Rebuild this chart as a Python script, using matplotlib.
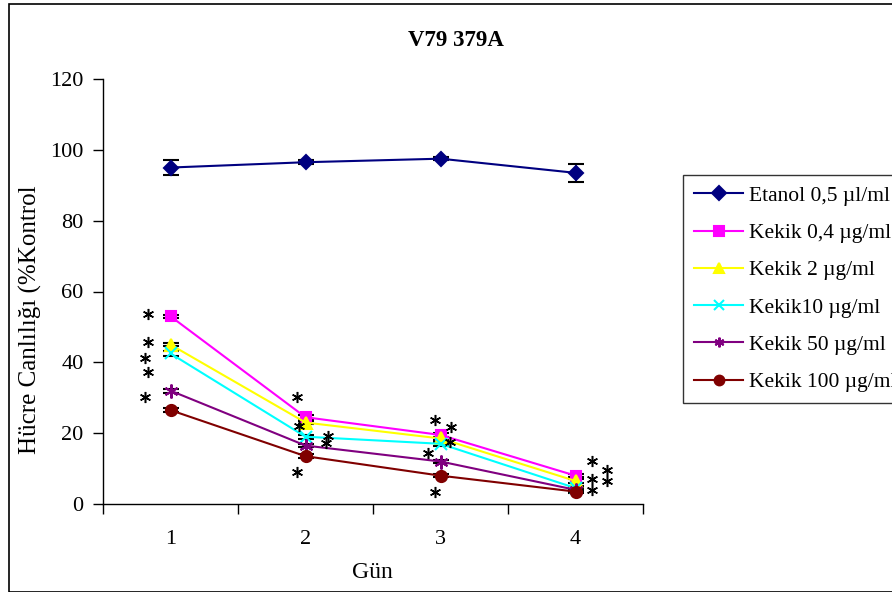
import matplotlib
matplotlib.use("Agg")
import matplotlib.pyplot as plt
from matplotlib.patches import Rectangle

plt.rcParams['font.family'] = ['Liberation Serif', 'DejaVu Serif']

days = [1, 2, 3, 4]
title = "V79 379A"
series_names = ["Etanol 0,5 µl/ml", "Kekik 0,4 µg/ml", "Kekik 2 µg/ml",
                "Kekik10 µg/ml", "Kekik 50 µg/ml", "Kekik 100 µg/ml"]
etanol = [95.0, 96.5, 97.5, 93.5]
kekik_04 = [53.0, 24.5, 19.5, 8.0]
kekik_2 = [45.0, 23.0, 18.5, 6.5]
kekik_10 = [42.5, 19.0, 17.0, 4.5]
kekik_50 = [32.0, 16.5, 12.0, 4.0]
kekik_100 = [26.5, 13.5, 8.0, 3.5]

err_etanol = [2.0, 0.6, 0.5, 2.5]
err_04 = [0.5, 0.5, 0.5, 0.5]
err_2 = [0.5, 0.5, 0.5, 0.5]
err_10 = [0.6, 0.6, 0.5, 0.5]
err_50 = [0.6, 0.5, 0.5, 0.4]
err_100 = [0.5, 0.5, 0.4, 0.4]

# significance asterisk positions (x, y)
star_x = [0.836, 0.836, 0.811, 0.836, 0.811,
          1.938, 1.95, 2.167, 2.15, 1.938,
          2.96, 3.08, 3.067, 2.908, 2.957,
          4.125, 4.231, 4.125, 4.231, 4.125]
star_y = [53.6, 45.8, 41.1, 37.3, 30.3,
          30.3, 21.9, 19.2, 17.3, 9.0,
          23.7, 21.8, 17.6, 14.3, 3.5,
          12.1, 9.6, 7.1, 6.6, 4.0]

fig = plt.figure(figsize=(8.92, 5.92), dpi=100)
ax = fig.add_axes([103/892, 1-504/592, (643-103)/892, (504-79)/592])

# figure border
fig.patches.append(Rectangle((9/892, 0), 2.0, (592-4)/592, transform=fig.transFigure,
                             fill=False, edgecolor='black', linewidth=1.2))

styles = [
    (etanol, err_etanol, '#000080', 'D', 7),
    (kekik_04, err_04, '#FF00FF', 's', 7),
    (kekik_2, err_2, '#FFFF00', '^', 8),
    (kekik_10, err_10, '#00FFFF', 'x', 8),
    (kekik_50, err_50, '#800080', (6, 2, 0), 10),
    (kekik_100, err_100, '#800000', 'o', 8),
]

handles = []
for (vals, errs, col, mk, ms), name in zip(styles, series_names):
    ax.errorbar(days, vals, yerr=errs, fmt='none', ecolor='black',
                elinewidth=1.2, capsize=6, capthick=1.5, zorder=2)
    h, = ax.plot(days, vals, color=col, marker=mk, markersize=ms,
                 markerfacecolor=col, markeredgecolor=col, markeredgewidth=1.5,
                 linewidth=1.5, label=name, zorder=3)
    handles.append(h)

ax.plot(star_x, star_y, linestyle='none', marker=(6, 2, 0), markersize=8,
        markeredgewidth=1.1, color='black', zorder=4)

ax.set_xlim(0.5, 4.5)
ax.set_ylim(0, 120)
ax.set_yticks(range(0, 121, 20))
ax.set_xticks([0.5, 1.5, 2.5, 3.5, 4.5])
ax.set_xticklabels([])
ax.set_xticks(days, minor=True)
ax.set_xticklabels([str(d) for d in days], minor=True)
ax.tick_params(axis='x', which='minor', length=0, pad=19, labelsize=16)
ax.tick_params(axis='x', which='major', direction='out', length=7, width=1)
ax.tick_params(axis='y', direction='out', length=7, width=1, labelsize=16, pad=7)
ax.spines['top'].set_visible(False)
ax.spines['right'].set_visible(False)
for s in ['left', 'bottom']:
    ax.spines[s].set_linewidth(1)

ax.set_xlabel("Gün", fontsize=17)
ax.xaxis.set_label_coords(372/892, 1-572/592, transform=fig.transFigure)
ax.xaxis.label.set_va('center')
ax.set_ylabel("Hücre Canlılığı (%Kontrol", fontsize=18)
ax.yaxis.set_label_coords(30/892, 1-320/592, transform=fig.transFigure)
ax.yaxis.label.set_va('center')
fig.text(456/892, 1-41/592, title, ha='center', va='center',
         fontsize=16.5, fontweight='bold')

leg = fig.legend(handles=handles, loc='upper left',
                 bbox_to_anchor=(683/892, 1-175/592), fontsize=15.5,
                 frameon=True, fancybox=False, edgecolor='black',
                 handlelength=2.3, labelspacing=0.8, borderpad=0.5,
                 handletextpad=0.25, borderaxespad=0)
leg.get_frame().set_linewidth(1)
for lh in leg.legend_handles:
    lh.set_markersize(7)

fig.savefig("out.png", dpi=100)
